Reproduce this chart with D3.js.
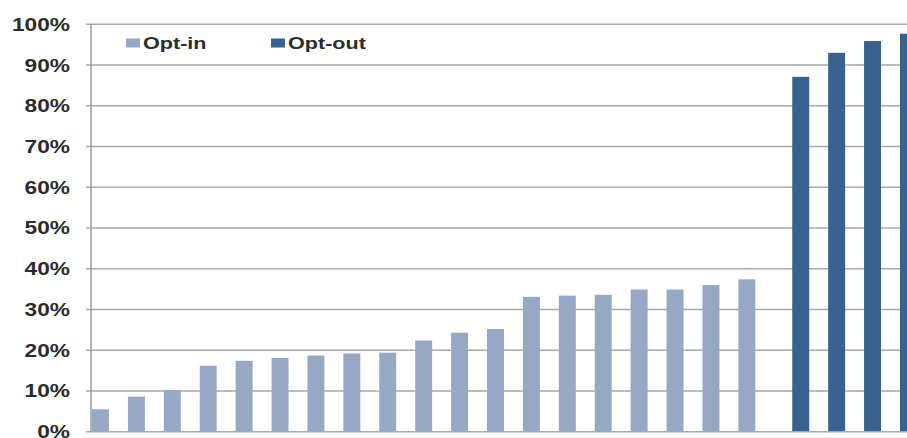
<!DOCTYPE html>
<html>
<head>
<meta charset="utf-8">
<script src="https://cdn.jsdelivr.net/npm/d3@7"></script>
<style>
  html, body { margin: 0; padding: 0; background: #fff; overflow: hidden; }
  svg { display: block; }
  text { font-family: "Liberation Sans", Arial, sans-serif; font-weight: bold; fill: #2b2b2b; }
</style>
</head>
<body>
<svg id="chart" width="907" height="438"></svg>
<script>
// Data
const categories = d3.range(1, 24).map(i => "C" + i);
const seriesNames = ["Opt-in", "Opt-out"];
const optIn = [5.5, 8.6, 10.2, 16.2, 17.4, 18.1, 18.7, 19.2, 19.4, 22.4, 24.3, 25.2, 33.1, 33.4, 33.6, 34.9, 34.9, 36.0, 37.4, null, null, null, null];
const optOut = [null, null, null, null, null, null, null, null, null, null, null, null, null, null, null, null, null, null, null, 87.1, 93.0, 95.9, 97.7];
const yTicks = [0, 10, 20, 30, 40, 50, 60, 70, 80, 90, 100];
const colors = { "Opt-in": "#96a8c4", "Opt-out": "#38618e" };

const svg = d3.select("#chart");
const plotLeft = 91, plotTop = 24.3, plotBottom = 431.7;
const catW = 35.91;

const x = d3.scaleBand().domain(categories).range([plotLeft, plotLeft + catW * categories.length]).padding(0);
const xs = d3.scaleBand().domain(seriesNames).range([0, x.bandwidth()]).padding(0);
const y = d3.scaleLinear().domain([0, 100]).range([plotBottom, plotTop]);

// gridlines
svg.append("g").selectAll("line").data(yTicks.filter(t => t > 0)).join("line")
  .attr("x1", plotLeft - 5).attr("x2", 907)
  .attr("y1", d => y(d)).attr("y2", d => y(d))
  .attr("stroke", "#a9a9a9").attr("stroke-width", 1.5);

// bars
const rows = [];
categories.forEach((c, i) => {
  if (optIn[i] != null) rows.push({ c, s: "Opt-in", v: optIn[i] });
  if (optOut[i] != null) rows.push({ c, s: "Opt-out", v: optOut[i] });
});
svg.append("g").selectAll("rect").data(rows).join("rect")
  .attr("x", d => x(d.c) + xs(d.s) + 1)
  .attr("width", xs.bandwidth() - 1)
  .attr("y", d => y(d.v))
  .attr("height", d => y(0) - y(d.v))
  .attr("fill", d => colors[d.s]);

// axis baseline
svg.append("line").attr("x1", plotLeft - 5).attr("x2", 907).attr("y1", y(0)).attr("y2", y(0))
  .attr("stroke", "#a9a9a9").attr("stroke-width", 1.5);
// y axis line
svg.append("line").attr("x1", plotLeft).attr("x2", plotLeft).attr("y1", y(100)).attr("y2", y(0))
  .attr("stroke", "#9a9a9a").attr("stroke-width", 1.5);

// y labels
svg.append("g").selectAll("text").data(yTicks).join("text")
  .attr("transform", d => `translate(70,${y(d)}) scale(1.26,1)`)
  .attr("text-anchor", "end")
  .attr("dy", "0.36em")
  .style("font-size", "18px")
  .text(d => d + "%");

// legend
const legendX = [126, 271];
const lg = svg.append("g").selectAll("g").data(seriesNames).join("g")
  .attr("transform", (d, i) => `translate(${legendX[i]},0)`);
lg.append("rect").attr("x", 0).attr("y", 38.5).attr("width", 14).attr("height", 9)
  .attr("fill", d => colors[d]);
lg.append("text")
  .attr("transform", "translate(17,43) scale(1.35,1)")
  .attr("dy", "0.36em")
  .style("font-size", "16px")
  .text(d => d);
</script>
</body>
</html>
